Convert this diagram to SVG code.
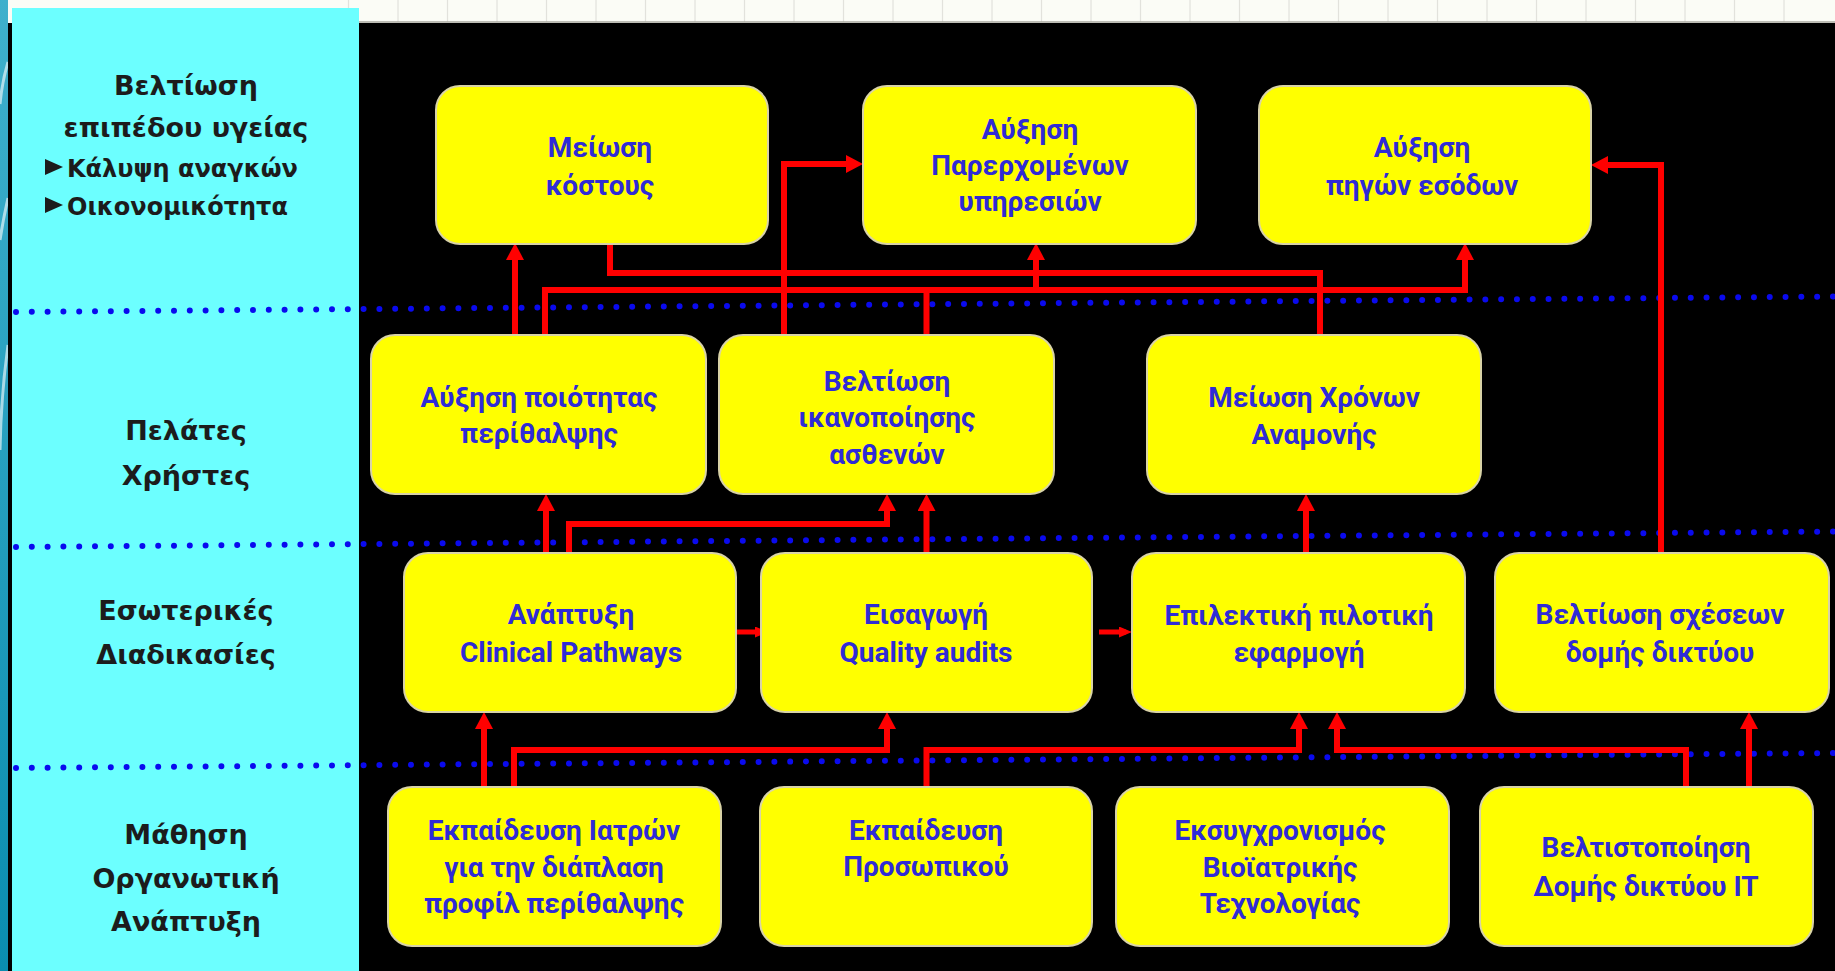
<svg xmlns="http://www.w3.org/2000/svg" width="1835" height="971" viewBox="0 0 1835 971">
  <defs>
    <linearGradient id="edge" x1="0" y1="0" x2="0" y2="1">
      <stop offset="0" stop-color="#3fb0cc"/>
      <stop offset="1" stop-color="#0a8db0"/>
    </linearGradient>
    <marker id="arr" markerUnits="userSpaceOnUse" markerWidth="18" markerHeight="18" viewBox="0 0 18 18" refX="9" refY="9" orient="auto">
      <path d="M0,0 L17,9 L0,18 z" fill="#ff0000"/>
    </marker>
    <marker id="arrS" markerUnits="userSpaceOnUse" markerWidth="13" markerHeight="11" viewBox="0 0 13 11" refX="7" refY="5.5" orient="auto">
      <path d="M0,0 L13,5.5 L0,11 z" fill="#ff0000"/>
    </marker>
  </defs>
  <style>
    .node rect { fill: #ffff00; stroke: #d9d3a6; stroke-width: 2; }
    .node text { font-family: Roboto, "Liberation Sans", sans-serif; font-weight: bold; font-size: 28px; fill: #2f2bd6; text-anchor: middle; }
    .lane { font-family: "DejaVu Sans", "Liberation Sans", sans-serif; font-weight: bold; font-size: 27px; fill: #1c1c1c; text-anchor: middle; }
    .bullet { font-family: "DejaVu Sans", "Liberation Sans", sans-serif; font-weight: bold; font-size: 24px; fill: #1c1c1c; }
    .dots { fill: none; stroke: #0a0aee; stroke-width: 6; stroke-linecap: round; stroke-dasharray: 0 15.8; }
    .link { fill: none; stroke: #ff0000; stroke-width: 6; stroke-linejoin: miter; }
    .link-s { fill: none; stroke: #ff0000; stroke-width: 5; }
    .grid { stroke: #e2e2dc; stroke-width: 1.2; }
  </style>

  <!-- page background -->
  <rect x="0" y="0" width="1835" height="971" fill="#fbfcf6"/>
  <g id="top-strip">
    <path class="grid" d="M348.5,0V22 M398,0V22 M447.5,0V22 M497,0V22 M546.5,0V22 M596,0V22 M645.5,0V22 M695,0V22 M744.5,0V22 M794,0V22 M843.5,0V22 M893,0V22 M942.5,0V22 M992,0V22 M1041.5,0V22 M1091,0V22 M1140.5,0V22 M1190,0V22 M1239.5,0V22 M1289,0V22 M1338.5,0V22 M1388,0V22 M1437.5,0V22 M1487,0V22 M1536.5,0V22 M1586,0V22 M1635.5,0V22 M1685,0V22 M1734.5,0V22 M1784,0V22"/>
    <line x1="359" y1="22" x2="1835" y2="22" stroke="#a9a99f" stroke-width="1.5"/>
  </g>
  <rect x="0" y="0" width="8" height="971" fill="url(#edge)"/>
  <path d="M8,62 Q2,82 0,104 M8,198 Q3,220 0,240 M8,345 Q1,395 0,450" fill="none" stroke="#ffffff" stroke-opacity="0.6" stroke-width="3"/>
  <rect x="8" y="23" width="1827" height="948" fill="#000000"/>

  <!-- perspective lane panel -->
  <g id="lanes">
    <rect x="12" y="8" width="347" height="963" fill="#6cffff"/>
    <text class="lane" x="186" y="95">Βελτίωση</text>
    <text class="lane" x="186" y="137">επιπέδου υγείας</text>
    <path d="M45,159 L63,167 L45,175 z" fill="#1c1c1c"/>
    <text class="bullet" x="67" y="177">Κάλυψη αναγκών</text>
    <path d="M45,197 L63,205 L45,213 z" fill="#1c1c1c"/>
    <text class="bullet" x="67" y="215">Οικονομικότητα</text>
    <text class="lane" x="186" y="440">Πελάτες</text>
    <text class="lane" x="186" y="485">Χρήστες</text>
    <text class="lane" x="186" y="620">Εσωτερικές</text>
    <text class="lane" x="186" y="664">Διαδικασίες</text>
    <text class="lane" x="186" y="844">Μάθηση</text>
    <text class="lane" x="186" y="888">Οργανωτική</text>
    <text class="lane" x="186" y="931">Ανάπτυξη</text>
  </g>

  <!-- dotted lane separators -->
  <g id="separators">
    <line class="dots" x1="16" y1="312" x2="1835" y2="296.5"/>
    <line class="dots" x1="16" y1="547" x2="1835" y2="531.5"/>
    <line class="dots" x1="16" y1="768" x2="1835" y2="753"/>
  </g>

  <!-- cause and effect links -->
  <g id="connectors">
    <path class="link" d="M515,335 V251" marker-end="url(#arr)"/>
    <path class="link" d="M545,335 V290 H1465 V251" marker-end="url(#arr)"/>
    <path class="link" d="M1036,290 V251" marker-end="url(#arr)"/>
    <path class="link" d="M926.5,335 V290"/>
    <path class="link" d="M1320,335 V273 H610 V236" marker-end="url(#arr)"/>
    <path class="link" d="M784,335 V164 H855" marker-end="url(#arr)"/>
    <path class="link" d="M1661,553 V165 H1599" marker-end="url(#arr)"/>
    <path class="link" d="M546,553 V502" marker-end="url(#arr)"/>
    <path class="link" d="M569,553 V524 H887 V502" marker-end="url(#arr)"/>
    <path class="link" d="M926.5,553 V502" marker-end="url(#arr)"/>
    <path class="link" d="M1306,553 V502" marker-end="url(#arr)"/>
    <path class="link-s" d="M733,632 H762" marker-end="url(#arrS)"/>
    <path class="link-s" d="M1099,632 H1126" marker-end="url(#arrS)"/>
    <path class="link" d="M484,787 V720" marker-end="url(#arr)"/>
    <path class="link" d="M514,787 V750 H887 V720" marker-end="url(#arr)"/>
    <path class="link" d="M926.5,787 V750 H1299 V720" marker-end="url(#arr)"/>
    <path class="link" d="M1686,787 V750 H1337 V720" marker-end="url(#arr)"/>
    <path class="link" d="M1749,787 V720" marker-end="url(#arr)"/>
  </g>

  <!-- top row -->
  <g id="meiosi-kostous" class="node">
    <rect x="436" y="86" width="332" height="158" rx="24"/>
    <text x="600" y="157">Μείωση</text>
    <text x="600" y="195">κόστους</text>
  </g>
  <g id="afxisi-ypiresion" class="node">
    <rect x="863" y="86" width="333" height="158" rx="24"/>
    <text x="1030" y="139">Αύξηση</text>
    <text x="1030" y="175">Παρερχομένων</text>
    <text x="1030" y="211">υπηρεσιών</text>
  </g>
  <g id="afxisi-esodon" class="node">
    <rect x="1259" y="86" width="332" height="158" rx="24"/>
    <text x="1422" y="157">Αύξηση</text>
    <text x="1422" y="195">πηγών εσόδων</text>
  </g>

  <!-- customer row -->
  <g id="poiotita" class="node">
    <rect x="371" y="335" width="335" height="159" rx="24"/>
    <text x="539" y="407">Αύξηση ποιότητας</text>
    <text x="539" y="443">περίθαλψης</text>
  </g>
  <g id="ikanopoiisi" class="node">
    <rect x="719" y="335" width="335" height="159" rx="24"/>
    <text x="887" y="391">Βελτίωση</text>
    <text x="887" y="427">ικανοποίησης</text>
    <text x="887" y="464">ασθενών</text>
  </g>
  <g id="anamoni" class="node">
    <rect x="1147" y="335" width="334" height="159" rx="24"/>
    <text x="1314" y="407">Μείωση Χρόνων</text>
    <text x="1314" y="444">Αναμονής</text>
  </g>

  <!-- process row -->
  <g id="clinical-pathways" class="node">
    <rect x="404" y="553" width="332" height="159" rx="24"/>
    <text x="571" y="624">Ανάπτυξη</text>
    <text x="571" y="662">Clinical Pathways</text>
  </g>
  <g id="quality-audits" class="node">
    <rect x="761" y="553" width="331" height="159" rx="24"/>
    <text x="926" y="624">Εισαγωγή</text>
    <text x="926" y="662">Quality audits</text>
  </g>
  <g id="pilotiki" class="node">
    <rect x="1132" y="553" width="333" height="159" rx="24"/>
    <text x="1299" y="625">Επιλεκτική πιλοτική</text>
    <text x="1299" y="662">εφαρμογή</text>
  </g>
  <g id="sxeseis-diktyou" class="node">
    <rect x="1495" y="553" width="334" height="159" rx="24"/>
    <text x="1660" y="624">Βελτίωση σχέσεων</text>
    <text x="1660" y="662">δομής δικτύου</text>
  </g>

  <!-- learning row -->
  <g id="ekpaidefsi-iatron" class="node">
    <rect x="388" y="787" width="333" height="159" rx="24"/>
    <text x="554" y="840">Εκπαίδευση Ιατρών</text>
    <text x="554" y="877">για την διάπλαση</text>
    <text x="554" y="913">προφίλ περίθαλψης</text>
  </g>
  <g id="ekpaidefsi-prosopikou" class="node">
    <rect x="760" y="787" width="332" height="159" rx="24"/>
    <text x="926" y="840">Εκπαίδευση</text>
    <text x="926" y="876">Προσωπικού</text>
  </g>
  <g id="texnologia" class="node">
    <rect x="1116" y="787" width="333" height="159" rx="24"/>
    <text x="1280" y="840">Εκσυγχρονισμός</text>
    <text x="1280" y="877">Βιοϊατρικής</text>
    <text x="1280" y="913">Τεχνολογίας</text>
  </g>
  <g id="diktyo-it" class="node">
    <rect x="1480" y="787" width="333" height="159" rx="24"/>
    <text x="1646" y="857">Βελτιστοποίηση</text>
    <text x="1646" y="896">Δομής δικτύου IT</text>
  </g>
</svg>
